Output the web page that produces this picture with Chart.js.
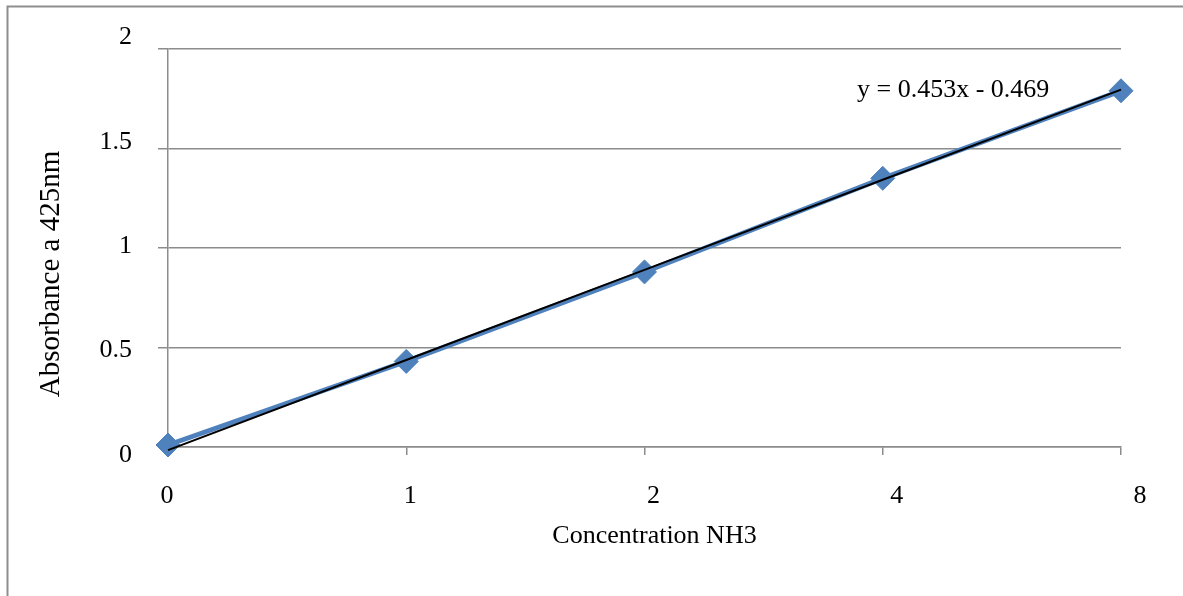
<!DOCTYPE html>
<html>
<head>
<meta charset="utf-8">
<script src="https://cdn.jsdelivr.net/npm/chart.js@4.4.1/dist/chart.umd.min.js"></script>
<style>
  html, body { margin: 0; padding: 0; background: #ffffff; }
  #wrap { width: 1183px; height: 596px; }
</style>
</head>
<body>
<div id="wrap"><canvas id="c" width="1183" height="596"></canvas></div>
<script>
// Calibration data: absorbance at 425 nm for each NH3 concentration
const categories = ['0', '1', '2', '4', '8'];
const absorbance = [0.01, 0.43, 0.88, 1.35, 1.79];
const yTickValues = [0, 0.5, 1, 1.5, 2];

// Linear trendline (x = point number 1..5)
const trendSlope = 0.453;
const trendIntercept = -0.469;
const equationText = 'y = 0.453x - 0.469';

const xTitle = 'Concentration NH3';
const yTitle = 'Absorbance a 425nm';

const FONT = 'Liberation Serif, "Times New Roman", serif';
const GRID = '#8c8c8c';

// The label axes span a little wider than the plot axes, so the tick
// labels spread slightly beyond their grid positions.
const xLabelRange = { min: 0.0041, max: 3.9219 };
const yLabelRange = { min: 0.0383, max: 1.9449 };

const trendValues = categories.map((c, i) => trendSlope * (i + 1) + trendIntercept);

// Outer frame, axis titles and the trendline equation
const decorations = {
  id: 'decorations',
  beforeDraw(chart) {
    const ctx = chart.ctx;
    ctx.save();
    ctx.strokeStyle = '#8e8e8e';
    ctx.lineWidth = 2;
    ctx.strokeRect(7.5, 6.5, 1400, 900);
    ctx.restore();
  },
  afterDraw(chart) {
    const ctx = chart.ctx;
    const a = chart.chartArea;
    ctx.save();
    ctx.fillStyle = '#000';
    ctx.textBaseline = 'alphabetic';

    // x-axis title
    ctx.font = '26px ' + FONT;
    ctx.textAlign = 'center';
    ctx.fillText(xTitle, (a.left + a.right) / 2 + 10, a.bottom + 96);

    // y-axis title
    ctx.save();
    ctx.font = '29px ' + FONT;
    ctx.translate(a.left - 109, (a.top + a.bottom) / 2 + 26);
    ctx.rotate(-Math.PI / 2);
    ctx.textAlign = 'center';
    ctx.fillText(yTitle, 0, 0);
    ctx.restore();

    // trendline equation
    ctx.font = '26px ' + FONT;
    ctx.textAlign = 'left';
    ctx.fillText(equationText, a.right - 264, a.top + 48);
    ctx.restore();
  }
};

new Chart(document.getElementById('c'), {
  type: 'line',
  data: {
    labels: categories,
    datasets: [
      {
        label: 'Linear',
        data: trendValues,
        borderColor: '#000000',
        borderWidth: 2,
        pointRadius: 0,
        tension: 0,
        fill: false,
        clip: false,
        order: 1
      },
      {
        label: 'Absorbance',
        data: absorbance,
        borderColor: '#4F81BD',
        borderWidth: 5,
        pointStyle: 'rectRot',
        pointRadius: 12,
        pointBackgroundColor: '#4F81BD',
        pointBorderColor: '#4F81BD',
        pointBorderWidth: 1,
        tension: 0,
        fill: false,
        clip: false,
        order: 2
      }
    ]
  },
  options: {
    responsive: false,
    devicePixelRatio: 1,
    animation: false,
    layout: { padding: { left: 0, top: 49, right: 62, bottom: 0 } },
    plugins: {
      legend: { display: false },
      tooltip: { enabled: false },
      title: { display: false }
    },
    scales: {
      x: {
        type: 'category',
        offset: false,
        weight: 0,
        grid: {
          drawOnChartArea: false,
          drawTicks: true,
          tickLength: 8,
          color: GRID,
          lineWidth: 1.5
        },
        border: { display: true, color: GRID, width: 1.5 },
        ticks: { display: false },
        afterFit(scale) { scale.height = 0; }
      },
      xLabels: {
        type: 'linear',
        position: 'bottom',
        weight: 1,
        min: xLabelRange.min,
        max: xLabelRange.max,
        afterBuildTicks(scale) {
          scale.ticks = categories.map((c, i) => ({ value: i }));
        },
        grid: { display: false, drawTicks: true, tickLength: 28 },
        border: { display: false },
        ticks: {
          color: '#000',
          font: { family: FONT, size: 26 },
          padding: 6,
          maxRotation: 0,
          autoSkip: false,
          callback: (v) => categories[Math.round(v)]
        },
        afterFit(scale) { scale.height = 149; }
      },
      y: {
        min: 0,
        max: 2,
        weight: 0,
        afterBuildTicks(scale) {
          scale.ticks = yTickValues.map(v => ({ value: v }));
        },
        grid: {
          color: GRID,
          lineWidth: 1.5,
          drawTicks: true,
          tickLength: 10
        },
        border: { display: true, color: GRID, width: 1.5 },
        ticks: { display: false },
        afterFit(scale) { scale.width = 0; }
      },
      yLabels: {
        type: 'linear',
        position: 'left',
        weight: 1,
        min: yLabelRange.min,
        max: yLabelRange.max,
        afterBuildTicks(scale) {
          scale.ticks = yTickValues.map(v => ({ value: v }));
        },
        grid: { display: false, drawTicks: true, tickLength: 30 },
        border: { display: false },
        ticks: {
          color: '#000',
          font: { family: FONT, size: 26 },
          padding: 6,
          callback: (v) => String(v)
        },
        afterFit(scale) { scale.width = 168; }
      }
    }
  },
  plugins: [decorations]
});
</script>
</body>
</html>
